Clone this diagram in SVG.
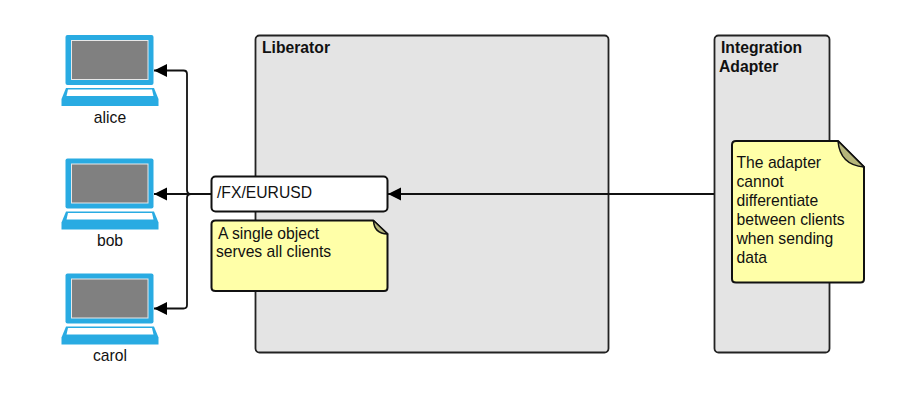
<svg xmlns="http://www.w3.org/2000/svg" width="900" height="406" viewBox="0 0 900 406">
<style>
text{font-family:"Liberation Sans",Arial,sans-serif;font-size:15.7px;fill:#111}
.b{font-weight:bold}
.box{fill:#e4e4e4;stroke:#222;stroke-width:1.8}
.note{fill:#ffffa8;stroke:#111;stroke-width:2;stroke-linejoin:round}
.fold{fill:#b5b57a;stroke:#111;stroke-width:1.5;stroke-linejoin:round}
.line{fill:none;stroke:#111;stroke-width:1.8}
.blue{fill:#29abe2}
</style>
<defs>
<marker id="arr" markerUnits="userSpaceOnUse" markerWidth="14" markerHeight="14" refX="13" refY="6.5" orient="auto" viewBox="0 0 14 13">
<path d="M0 0L13 6.5L0 13Z" fill="#000"/>
</marker>
<g id="laptop">
<rect class="blue" x="65.5" y="35" width="88" height="50" rx="2"/>
<rect x="71.5" y="40.5" width="76.500" height="39" fill="#808080" stroke="#e8e8e8" stroke-width="1"/>
<path class="blue" d="M66 88H154L158.500 99V106H61.500V99Z"/>
<path d="M68 89.500H152L153.500 96H66.500Z" fill="#fff"/>
</g>
</defs>
<g id="liberator"><rect class="box" x="255.500" y="35.500" width="353" height="317" rx="4"/><text class="b" x="262" y="52.500">Liberator</text></g>
<g id="integration-adapter"><rect class="box" x="714.500" y="35.500" width="115" height="317" rx="4"/><text class="b" x="721" y="52.500">Integration</text><text class="b" x="719" y="71.500">Adapter</text></g>
<g id="connectors">
<path class="line" d="M714 194H388" marker-end="url(#arr)"/>
<path class="line" d="M212 194H154" marker-end="url(#arr)"/>
<path class="line" d="M191 194Q187 194 187 190V74Q187 70.500 183.500 70.500H154" marker-end="url(#arr)"/>
<path class="line" d="M191 194Q187 194 187 198V305Q187 308.500 183.500 308.500H154" marker-end="url(#arr)"/>
</g>
<g id="alice"><use href="#laptop"/><text x="110" y="122.500" text-anchor="middle">alice</text></g>
<g id="bob"><use href="#laptop" y="123.500"/><text x="110" y="245.500" text-anchor="middle">bob</text></g>
<g id="carol"><use href="#laptop" y="238.500"/><text x="110" y="360.500" text-anchor="middle">carol</text></g>
<g id="object"><rect x="211.500" y="176.500" width="176" height="35" rx="4" fill="#fff" stroke="#111" stroke-width="2"/><text x="217" y="198">/FX/EURUSD</text></g>
<g id="note-object">
<path class="note" d="M215.500 220.500H373L387.500 234V287.500Q387.500 291 384 291H215.500Q211.500 291 211.500 287.500V224Q211.500 220.500 215.500 220.500Z"/>
<path class="fold" d="M373.500 220.500Q374 233.500 387.500 234Z"/>
<text x="218" y="238.500">A single object</text><text x="216" y="257">serves all clients</text>
</g>
<g id="note-adapter">
<path class="note" d="M736 141H838L864 167V279Q864 282.500 860.500 282.500H736Q732 282.500 732 279V145Q732 141 736 141Z"/>
<path class="fold" d="M838 141Q840 165 864 167Z"/>
<text x="736.500" y="167.500">The adapter</text><text x="736.500" y="186.500">cannot</text><text x="736.500" y="205.500">differentiate</text><text x="736.500" y="224.500">between clients</text><text x="736.500" y="243.500">when sending</text><text x="736.500" y="262.500">data</text>
</g>
</svg>
